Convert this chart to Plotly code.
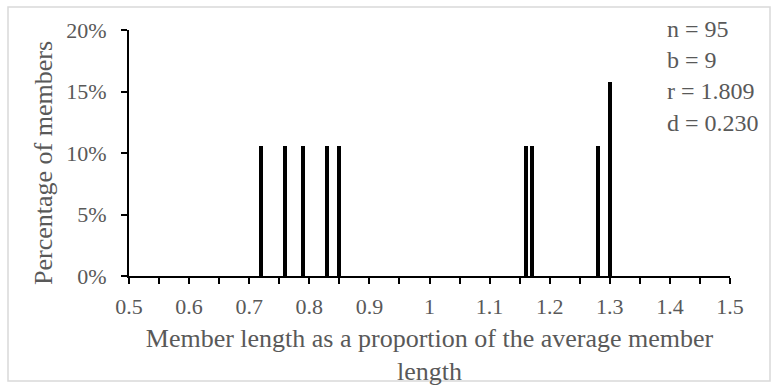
import plotly.graph_objects as go

# Data
member_length = [0.72, 0.76, 0.79, 0.83, 0.85, 1.16, 1.17, 1.28, 1.30]
pct_members = [10.53, 10.53, 10.53, 10.53, 10.53, 10.53, 10.53, 10.53, 15.79]
x_tickvals = [0.5, 0.6, 0.7, 0.8, 0.9, 1.0, 1.1, 1.2, 1.3, 1.4, 1.5]
x_ticktext = ["0.5", "0.6", "0.7", "0.8", "0.9", "1", "1.1", "1.2", "1.3", "1.4", "1.5"]
y_tickvals = [0, 5, 10, 15, 20]
y_ticktext = ["0%", "5%", "10%", "15%", "20%"]
stats_text = ["n = 95", "b = 9", "r = 1.809", "d = 0.230"]

W, H = 776, 387
L, R, T, B = 129, 46, 30, 111
pw, ph = W - L - R, H - T - B

FONT = "Liberation Serif, Times New Roman, serif"
GRAY = "#595959"

fig = go.Figure(go.Bar(
    x=member_length, y=pct_members, width=0.0065,
    marker=dict(color="black", line=dict(width=0)),
))

fig.update_layout(
    width=W, height=H,
    margin=dict(l=L, r=R, t=T, b=B, pad=0, autoexpand=False),
    paper_bgcolor="white", plot_bgcolor="white",
    showlegend=False,
    font=dict(family=FONT, color=GRAY, size=22),
    bargap=0,
)

fig.update_xaxes(
    range=[0.5, 1.5], tickvals=x_tickvals, ticktext=x_ticktext,
    automargin=False,
    showgrid=False, zeroline=False,
    showline=True, linecolor="black", linewidth=2,
    ticks="outside", ticklen=6, tickwidth=2, tickcolor="black",
    minor=dict(dtick=0.05, tick0=0.5, ticks="outside", ticklen=6, tickwidth=2, tickcolor="black", showgrid=False),
    tickfont=dict(size=22, color=GRAY, family=FONT),
    ticklabelstandoff=4,
    title=dict(text="Member length as a proportion of the average member<br>length",
               font=dict(size=26, color=GRAY, family=FONT), standoff=10),
)
fig.update_yaxes(
    range=[0, 20], tickvals=y_tickvals, ticktext=y_ticktext,
    automargin=False,
    showgrid=False, zeroline=False,
    showline=True, linecolor="black", linewidth=2,
    ticks="outside", ticklen=6, tickwidth=2, tickcolor="black",
    tickfont=dict(size=22, color=GRAY, family=FONT),
    ticklabelstandoff=10,
)

# y axis title placed as rotated annotation (offset like the reference)
fig.add_annotation(
    text="Percentage of members", xref="paper", yref="paper",
    x=(43 - L) / pw, y=(H - B - 163) / ph, xanchor="center", yanchor="middle",
    textangle=-90, showarrow=False,
    font=dict(size=26, color=GRAY, family=FONT),
)

fig.add_annotation(
    text="<br>".join(stats_text), xref="paper", yref="paper",
    x=(665 - L) / pw, y=1 + 16 / ph, xanchor="left", yanchor="top",
    align="left", showarrow=False,
    font=dict(size=24, color=GRAY, family=FONT),
)

# light gray outer border
fig.add_shape(
    type="rect", xref="paper", yref="paper",
    x0=(8 - L) / pw, x1=(770 - L) / pw,
    y0=(H - B - 381) / ph, y1=(H - B - 7) / ph,
    line=dict(color="#d9d9d9", width=1.5), fillcolor="rgba(0,0,0,0)", layer="below",
)

fig.write_html("out.html")
